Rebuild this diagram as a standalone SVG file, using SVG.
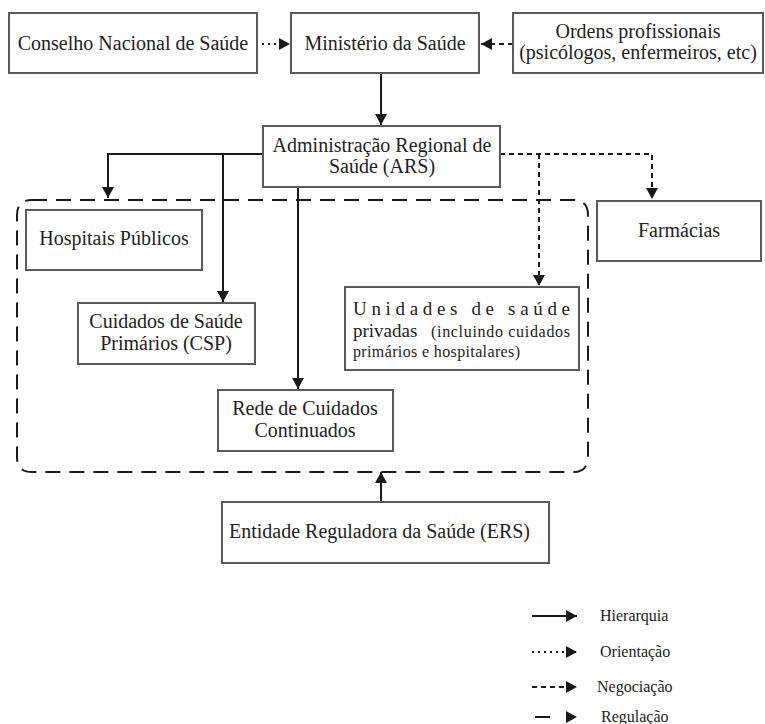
<svg xmlns="http://www.w3.org/2000/svg" width="765" height="724" viewBox="0 0 765 724">
<defs>
<marker id="ah" viewBox="0 0 11 12" refX="11" refY="6" markerWidth="11" markerHeight="12" markerUnits="userSpaceOnUse" orient="auto"><path d="M0,0 L11,6 L0,12 z" fill="#1a1a1a"/></marker>
<style>
.box{fill:#fff;stroke:#5a5a5a;stroke-width:2}
text{font-family:'Liberation Serif','Times New Roman',Times,serif}
.t{font-size:20px;fill:#222;text-anchor:middle}
.u{font-size:19px;fill:#222}
.s{font-size:16px;fill:#222}
.lg{font-size:16px;fill:#222}
.h{fill:none;stroke:#1a1a1a;stroke-width:2}
.o{fill:none;stroke:#1a1a1a;stroke-width:2;stroke-dasharray:2 4}
.n{fill:none;stroke:#1a1a1a;stroke-width:2;stroke-dasharray:5 4}
.r{fill:none;stroke:#1a1a1a;stroke-width:2;stroke-dasharray:15 9}
</style>
</defs>
<rect width="765" height="724" fill="#fff"/>
<g id="connectors">
<path class="r" d="M32,200 H573 Q588,200 588,215 V457 Q588,472 573,472 H32 Q17,472 17,457 V215 Q17,200 32,200 Z"/>
<line class="o" x1="262" y1="44" x2="290" y2="44" marker-end="url(#ah)"/>
<line class="n" x1="513" y1="44" x2="481" y2="44" marker-end="url(#ah)"/>
<line class="h" x1="381" y1="73" x2="381" y2="125" marker-end="url(#ah)"/>
<path class="h" d="M263,154 H108 V198" marker-end="url(#ah)"/>
<path class="h" d="M223,154 V302" marker-end="url(#ah)"/>
<path class="h" d="M298,187 V389" marker-end="url(#ah)"/>
<path class="n" d="M500,154 H652 V199" marker-end="url(#ah)"/>
<path class="n" d="M539,154 V286" marker-end="url(#ah)"/>
<line class="h" x1="381" y1="502" x2="381" y2="472" marker-end="url(#ah)"/>
</g>
<g id="conselho"><rect class="box" x="9" y="13" width="248" height="60"/><text class="t" x="133" y="50">Conselho Nacional de Saúde</text></g>
<g id="ministerio"><rect class="box" x="291" y="13" width="188" height="60"/><text class="t" x="385" y="50">Ministério da Saúde</text></g>
<g id="ordens"><rect class="box" x="513" y="13" width="250" height="60"/><text class="t" x="638" y="38">Ordens profissionais</text><text class="t" x="638" y="59">(psicólogos, enfermeiros, etc)</text></g>
<g id="ars"><rect class="box" x="263" y="126" width="237" height="61"/><text class="t" x="382" y="152">Administração Regional de</text><text class="t" x="382" y="173">Saúde (ARS)</text></g>
<g id="hospitais"><rect class="box" x="26" y="210" width="176" height="60"/><text class="t" x="114" y="245">Hospitais Públicos</text></g>
<g id="farmacias"><rect class="box" x="597" y="201" width="164" height="60"/><text class="t" x="679" y="237">Farmácias</text></g>
<g id="csp"><rect class="box" x="78" y="303" width="177" height="61"/><text class="t" x="166" y="328">Cuidados de Saúde</text><text class="t" x="166" y="350">Primários (CSP)</text></g>
<g id="unidades"><rect class="box" x="345" y="287" width="234" height="83"/>
<text class="u" x="353" y="315" textLength="217" lengthAdjust="spacing">Unidades de saúde</text>
<text class="u" x="353" y="337">privadas</text>
<text class="s" x="431" y="337" textLength="139" lengthAdjust="spacing">(incluindo cuidados</text>
<text class="s" x="353" y="357" textLength="167" lengthAdjust="spacing">primários e hospitalares)</text></g>
<g id="rede"><rect class="box" x="218" y="390" width="175" height="61"/><text class="t" x="305" y="415">Rede de Cuidados</text><text class="t" x="305" y="437">Continuados</text></g>
<g id="ers"><rect class="box" x="222" y="502" width="327" height="61"/><text class="t" x="229" y="538" style="text-anchor:start">Entidade Reguladora da Saúde (ERS)</text></g>
<g id="legend">
<line class="h" x1="532" y1="616" x2="577" y2="616" marker-end="url(#ah)"/>
<line class="o" x1="532" y1="652" x2="577" y2="652" marker-end="url(#ah)"/>
<line class="n" x1="532" y1="687" x2="577" y2="687" marker-end="url(#ah)"/>
<line class="h" x1="535" y1="717" x2="550" y2="717"/>
<path d="M566,711 L577,717 L566,723 z" fill="#1a1a1a"/>
<text class="lg" x="600" y="621">Hierarquia</text>
<text class="lg" x="600" y="657">Orientação</text>
<text class="lg" x="597" y="692">Negociação</text>
<text class="lg" x="601" y="722">Regulação</text>
</g>
</svg>
